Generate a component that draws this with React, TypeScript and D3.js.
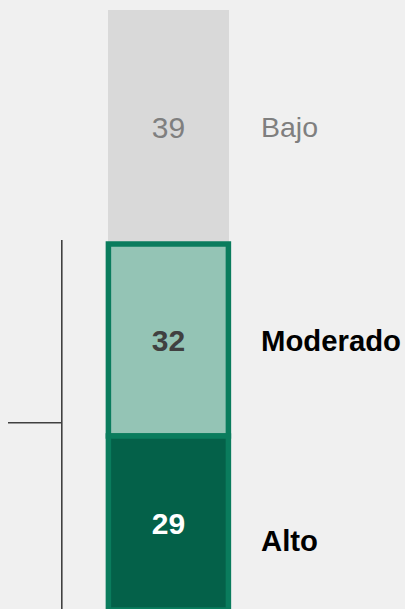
import React from "react";
import * as d3 from "d3";

const categories = ["Bajo", "Moderado", "Alto"];
const values = [39, 32, 29];
const fills = ["#d9d9d9", "#94c4b5", "#046149"];
const valueColors = ["#7f7f7f", "#404040", "#ffffff"];
const labelColors = ["#7f7f7f", "#000000", "#000000"];
const labelWeights = ["normal", "bold", "bold"];
const valueWeights = ["normal", "bold", "bold"];
const highlighted = [false, true, true];

const W = 405;
const H = 609;

export default function App() {
  const y = d3.scaleLinear().domain([0, 100]).range([10, 610]);
  const x0 = 108.4;
  const barW = 120;
  const cum = d3.cumsum(values);
  const starts = values.map((v, i) => cum[i] - v);
  const font = "'Liberation Sans', Arial, sans-serif";
  const labelY = [
    (y(starts[0]) + y(cum[0])) / 2,
    (y(starts[1]) + y(cum[1])) / 2,
    540,
  ];
  const bracketTop = y(starts[1]) - 4;
  const bracketMid = 422.7;
  return (
    <svg
      width={W}
      height={H}
      style={{ position: "fixed", left: 0, top: 0, background: "#f0f0f0" }}
    >
      <rect x={0} y={0} width={W} height={H} fill="#f0f0f0" />
      {values.map((v, i) => (
        <rect
          key={"r" + i}
          x={highlighted[i] ? x0 : 108}
          y={y(starts[i])}
          width={highlighted[i] ? barW : 121}
          height={y(cum[i]) - y(starts[i])}
          fill={fills[i]}
          stroke={highlighted[i] ? "#0a7c5d" : "none"}
          strokeWidth={5.5}
        />
      ))}
      {values.map((v, i) => (
        <text
          key={"v" + i}
          x={168.4}
          y={(y(starts[i]) + y(cum[i])) / 2}
          dy="0.36em"
          textAnchor="middle"
          fontFamily={font}
          fontSize={30}
          fontWeight={valueWeights[i]}
          fill={valueColors[i]}
        >
          {v}
        </text>
      ))}
      {categories.map((c, i) => (
        <text
          key={"c" + i}
          x={261}
          y={labelY[i]}
          dy="0.36em"
          fontFamily={font}
          fontSize={i === 0 ? 28.5 : 29.3}
          fontWeight={labelWeights[i]}
          fill={labelColors[i]}
        >
          {c}
        </text>
      ))}
      <line x1={61.8} x2={61.8} y1={bracketTop} y2={H} stroke="#404040" strokeWidth={1.6} />
      <line x1={8} x2={61.8} y1={bracketMid} y2={bracketMid} stroke="#404040" strokeWidth={1.6} />
    </svg>
  );
}
